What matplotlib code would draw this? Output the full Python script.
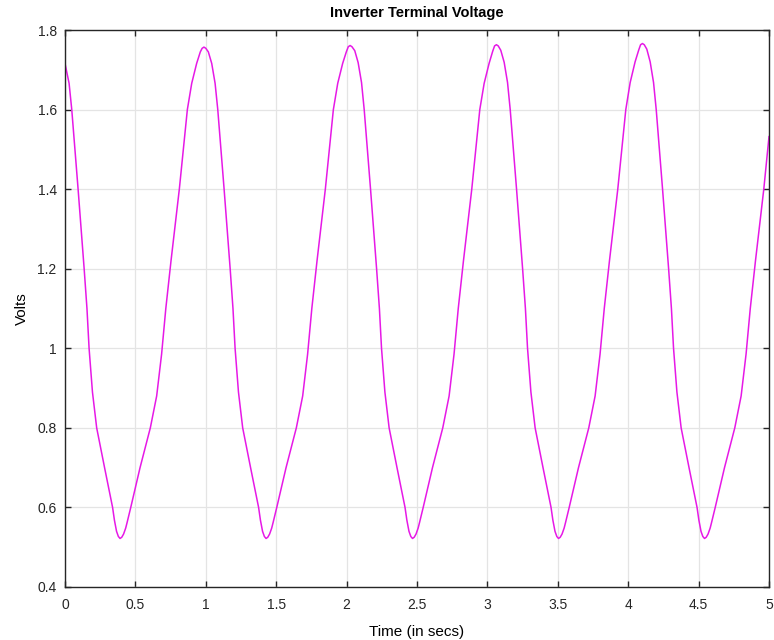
import matplotlib
matplotlib.use("Agg")
import matplotlib.pyplot as plt
from matplotlib.ticker import FuncFormatter

plt.rcParams['font.family'] = ['Liberation Sans', 'DejaVu Sans']

# sampled terminal voltage (secs, volts)
t = [0.000, 0.029, 0.048, 0.093, 0.136, 0.156, 0.171, 0.195, 0.225, 0.281, 0.338, 0.351, 0.366,
     0.379, 0.391, 0.403, 0.416, 0.431, 0.441, 0.467, 0.533, 0.606, 0.651, 0.686, 0.716, 0.753,
     0.812, 0.869, 0.900, 0.935, 0.961, 0.974, 0.987, 1.000,
     1.018, 1.042, 1.066, 1.085, 1.130, 1.173, 1.193, 1.208, 1.232, 1.262, 1.318, 1.375, 1.388,
     1.403, 1.416, 1.428, 1.440, 1.453, 1.468, 1.478, 1.504, 1.570, 1.643, 1.688, 1.723, 1.753,
     1.790, 1.849, 1.906, 1.937, 1.972, 1.998, 2.012, 2.025, 2.038,
     2.058, 2.082, 2.106, 2.125, 2.170, 2.213, 2.233, 2.248, 2.272, 2.302, 2.358, 2.415, 2.428,
     2.443, 2.456, 2.468, 2.480, 2.493, 2.508, 2.518, 2.544, 2.610, 2.683, 2.728, 2.763, 2.793,
     2.830, 2.889, 2.946, 2.977, 3.012, 3.038, 3.051, 3.064, 3.077,
     3.095, 3.119, 3.143, 3.162, 3.207, 3.250, 3.270, 3.285, 3.309, 3.339, 3.395, 3.452, 3.465,
     3.480, 3.493, 3.505, 3.517, 3.530, 3.545, 3.555, 3.581, 3.647, 3.720, 3.765, 3.800, 3.830,
     3.867, 3.926, 3.983, 4.014, 4.049, 4.075, 4.088, 4.101, 4.114,
     4.132, 4.156, 4.180, 4.199, 4.244, 4.287, 4.307, 4.322, 4.346, 4.376, 4.432, 4.489, 4.502,
     4.517, 4.530, 4.542, 4.554, 4.567, 4.582, 4.592, 4.618, 4.684, 4.757, 4.802, 4.837, 4.867,
     4.904, 4.963, 5.000]
v = [1.716, 1.666, 1.600, 1.400, 1.200, 1.100, 1.000, 0.890, 0.800, 0.700, 0.600, 0.568, 0.540,
     0.527, 0.522, 0.525, 0.533, 0.548, 0.562, 0.600, 0.700, 0.800, 0.880, 0.985, 1.100, 1.220,
     1.400, 1.600, 1.666, 1.716, 1.745, 1.754, 1.757, 1.754,
     1.745, 1.716, 1.666, 1.600, 1.400, 1.200, 1.100, 1.000, 0.890, 0.800, 0.700, 0.600, 0.568,
     0.540, 0.527, 0.522, 0.525, 0.533, 0.548, 0.562, 0.600, 0.700, 0.800, 0.880, 0.985, 1.100,
     1.220, 1.400, 1.600, 1.666, 1.716, 1.745, 1.758, 1.761, 1.758,
     1.748, 1.718, 1.668, 1.600, 1.400, 1.200, 1.100, 1.000, 0.890, 0.800, 0.700, 0.600, 0.568,
     0.540, 0.527, 0.522, 0.525, 0.533, 0.548, 0.562, 0.600, 0.700, 0.800, 0.880, 0.985, 1.100,
     1.220, 1.400, 1.600, 1.666, 1.716, 1.747, 1.760, 1.763, 1.760,
     1.749, 1.719, 1.668, 1.600, 1.400, 1.200, 1.100, 1.000, 0.890, 0.800, 0.700, 0.600, 0.568,
     0.540, 0.527, 0.522, 0.525, 0.533, 0.548, 0.562, 0.600, 0.700, 0.800, 0.880, 0.985, 1.100,
     1.220, 1.400, 1.600, 1.668, 1.720, 1.750, 1.763, 1.766, 1.763,
     1.752, 1.720, 1.668, 1.600, 1.400, 1.200, 1.100, 1.000, 0.890, 0.800, 0.700, 0.600, 0.568,
     0.540, 0.527, 0.522, 0.525, 0.533, 0.548, 0.562, 0.600, 0.700, 0.800, 0.880, 0.985, 1.100,
     1.220, 1.400, 1.532]

xticks = [0, 0.5, 1, 1.5, 2, 2.5, 3, 3.5, 4, 4.5, 5]
yticks = [0.4, 0.6, 0.8, 1.0, 1.2, 1.4, 1.6, 1.8]

fig = plt.figure(figsize=(7.74, 6.4), dpi=100)
ax = fig.add_axes([65 / 774, 53 / 640, 704 / 774, 557 / 640])

ax.plot(t, v, color='#e619e6', lw=1.1)

ax.set_xlim(0, 5)
ax.set_ylim(0.4, 1.8)
ax.set_xticks(xticks)
ax.set_yticks(yticks)
ax.xaxis.set_major_formatter(FuncFormatter(lambda x, p: '%g' % x))
ax.yaxis.set_major_formatter(FuncFormatter(lambda y, p: '%g' % round(y, 2)))
ax.grid(True, color='#e4e4e4', lw=0.9)
ax.set_axisbelow(True)
ax.tick_params(axis='both', direction='in', top=True, right=True, length=4, width=1,
               labelsize=10, colors='#262626')
ax.tick_params(axis='x', pad=8)
ax.tick_params(axis='y', pad=6)
for s in ax.spines.values():
    s.set_color('#262626')
    s.set_linewidth(1.0)

ax.set_title('Inverter Terminal Voltage', fontsize=10.5, fontweight='bold', pad=9)
ax.set_xlabel('Time (in secs)', fontsize=11, labelpad=9)
ax.set_ylabel('Volts', fontsize=11, labelpad=6)

fig.savefig('out.png', dpi=100)
